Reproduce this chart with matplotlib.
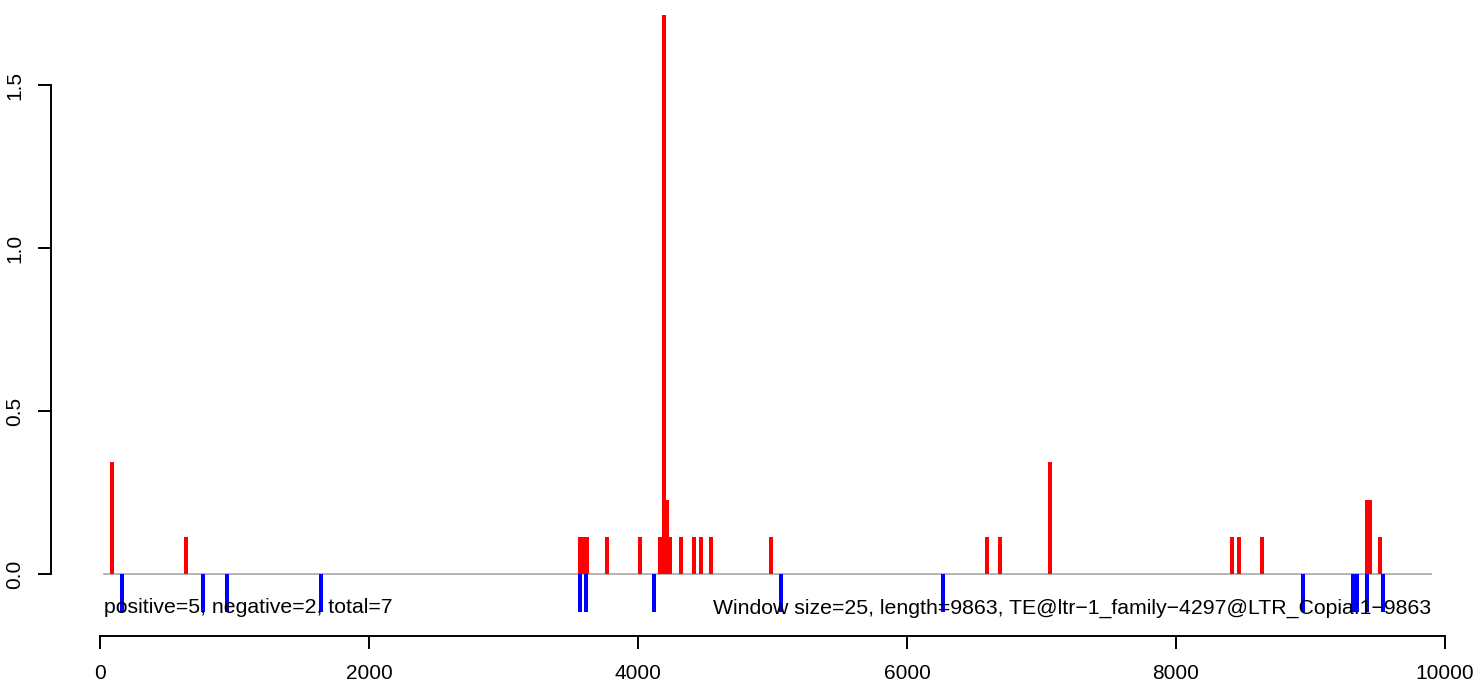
import matplotlib
matplotlib.use('Agg')
import matplotlib.pyplot as plt

plt.rcParams['font.family'] = ['Liberation Sans', 'DejaVu Sans']

# window positions (bp) and scores
pos_x = [89, 639, 3570, 3595, 3620, 3767, 4013, 4165, 4190, 4215, 4240,
         4318, 4416, 4468, 4543, 4989, 6597, 6689, 7063, 8416, 8468, 8639,
         9418, 9442, 9517]
pos_y = [0.343, 0.114, 0.114, 0.114, 0.114, 0.114, 0.114, 0.114, 1.714, 0.229,
         0.114, 0.114, 0.114, 0.114, 0.114, 0.114, 0.114, 0.114, 0.343, 0.114,
         0.114, 0.114, 0.229, 0.229, 0.114]
neg_x = [164, 768, 944, 1645, 3569, 3613, 4119, 5063, 6268, 8944, 9316, 9343,
         9420, 9539]
neg_y = [-0.114] * len(neg_x)

seq_start, seq_end = 20, 9905
left_text = 'positive=5, negative=2, total=7'
right_text = 'Window size=25, length=9863, TE@ltr\u22121_family\u22124297@LTR_Copia:1\u22129863'
x_ticks = [0, 2000, 4000, 6000, 8000, 10000]
y_ticks = [0.0, 0.5, 1.0, 1.5]

fig = plt.figure(figsize=(14.8, 6.87), dpi=100)
ax = fig.add_axes([50.7 / 1480, 51 / 687, 1 - 50.7 / 1480, 1 - 51 / 687])

ax.hlines(0, seq_start, seq_end, color='#a0a0a0', linewidth=1.1, zorder=1)
ax.bar(pos_x, pos_y, width=30, color='#ff0000', linewidth=0, zorder=2)
ax.bar(neg_x, neg_y, width=30, color='#0000ff', linewidth=0, zorder=2)

ax.text(32, -0.1196, left_text, ha='left', va='baseline', fontsize=15.3)
ax.text(9896, -0.1196, right_text, ha='right', va='baseline', fontsize=15.3)

ax.set_xlim(-366.5, 10260)
ax.set_ylim(-0.189, 1.7606)

for s in ['top', 'right']:
    ax.spines[s].set_visible(False)
ax.spines['left'].set_bounds(0, 1.5)
ax.spines['bottom'].set_bounds(0, 10000)
ax.spines['left'].set_linewidth(1.4)
ax.spines['bottom'].set_linewidth(1.4)

ax.set_xticks(x_ticks)
ax.set_xticklabels([str(t) for t in x_ticks])
ax.set_yticks(y_ticks)
ax.set_yticklabels([f'{t:.1f}' for t in y_ticks], rotation=90, va='center')
ax.tick_params(axis='both', direction='out', length=9.4, width=1.4,
               labelsize=15, pad=11)
ax.tick_params(axis='y', pad=9.5)
ax.patch.set_visible(False)

fig.savefig('out.png', dpi=100)
